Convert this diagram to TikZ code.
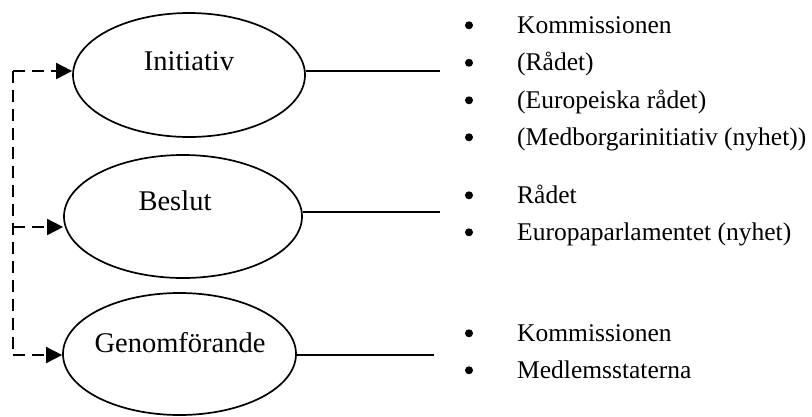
\documentclass[tikz,border=0pt]{standalone}
\usepackage{fontspec}
\setmainfont{Liberation Serif}
\usetikzlibrary{shapes.geometric,arrows.meta}
\begin{document}
\begin{tikzpicture}[x=1pt,y=-1pt,
  oval/.style={ellipse,draw,line width=1.7pt,inner sep=0pt},
  olabel/.style={anchor=base,inner sep=0pt,font=\fontsize{28.5}{34}\selectfont},
  itemtext/.style={anchor=base west,inner sep=0pt,font=\fontsize{25.5}{30}\selectfont},
  bul/.style={circle,fill=black,inner sep=0pt,minimum size=8pt},
  link/.style={line width=1.7pt},
  dashline/.style={line width=1.7pt,dash pattern=on 12pt off 7pt},
  dasharr/.style={dashline,-{Triangle[length=16pt,width=16pt]}}]
\useasboundingbox (0,0) rectangle (812,416);
% ellipses
\node[oval,minimum width=232pt,minimum height=124pt] (e1) at (189,75) {};
\node[oval,minimum width=238pt,minimum height=123pt] (e2) at (183,216.5) {};
\node[oval,minimum width=233pt,minimum height=122pt] (e3) at (179.5,354) {};
\node[olabel] (t1) at (189,70) {Initiativ};
\node[olabel] (t2) at (175,210) {Beslut};
\node[olabel] (t3) at (180,352) {Genomförande};
% dashed feedback
\coordinate (d1) at (13,71);
\coordinate (d2) at (13,227);
\coordinate (d3) at (13,355);
\draw[dashline] (d1) -- (d3);
\draw[dasharr] (d1) -- (d1 -| e1.west);
\draw[dasharr] (d2) -- (d2 -| e2.west);
\draw[dasharr] (d3) -- (d3 -| e3.west);
% right links
\coordinate (l1) at (440,71);
\coordinate (l2) at (440,212);
\coordinate (l3) at (434,355);
\draw[link] (e1.east |- l1) -- (l1);
\draw[link] (e2.east |- l2) -- (l2);
\draw[link] (e3.east |- l3) -- (l3);
% lists
\node[bul] (b11) at (469,25.3) {};
\node[itemtext] (i11) at (517,33) {Kommissionen};
\node[bul] (b12) at (469,62.8) {};
\node[itemtext] (i12) at (517,70.5) {(Rådet)};
\node[bul] (b13) at (469,100.3) {};
\node[itemtext] (i13) at (517,108) {(Europeiska rådet)};
\node[bul] (b14) at (469,137.3) {};
\node[itemtext] (i14) at (517,145) {(Medborgarinitiativ (nyhet))};
\node[bul] (b21) at (469,195.3) {};
\node[itemtext] (i21) at (517,203) {Rådet};
\node[bul] (b22) at (469,232.3) {};
\node[itemtext] (i22) at (517,240) {Europaparlamentet (nyhet)};
\node[bul] (b31) at (469,333.3) {};
\node[itemtext] (i31) at (517,341) {Kommissionen};
\node[bul] (b32) at (469,370.3) {};
\node[itemtext] (i32) at (517,378) {Medlemsstaterna};
\end{tikzpicture}
\end{document}
